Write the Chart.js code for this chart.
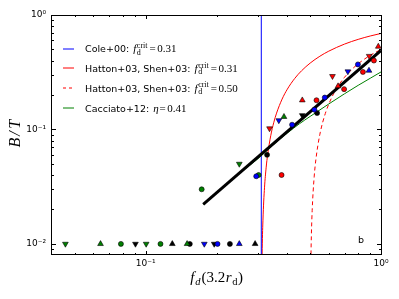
<!DOCTYPE html>
<html><head><meta charset="utf-8">
<script src="https://cdn.jsdelivr.net/npm/chart.js@4.4.1/dist/chart.umd.min.js"></script>
<style>html,body{margin:0;padding:0;background:#fff;}#wrap{width:399px;height:299px;position:relative;}</style>
</head><body><div id="wrap"><canvas id="c"></canvas></div>
<script>
// ---- axes ----
const xRange = [0.04, 1];
const yRange = [0.008, 1];
const xTickValues = [0.1, 1];
const xTickLabels = ['10\u207B\u00B9', '10\u2070'];
const yTickValues = [0.01, 0.1, 1];
const yTickLabels = ['10\u207B\u00B2', '10\u207B\u00B9', '10\u2070'];
const xMinorTicks = [0.05,0.06,0.07,0.08,0.09,0.2,0.3,0.4,0.5,0.6,0.7,0.8,0.9];
const yMinorTicks = [0.009,0.02,0.03,0.04,0.05,0.06,0.07,0.08,0.09,0.2,0.3,0.4,0.5,0.6,0.7,0.8,0.9];

// ---- observed galaxies: f_d(3.2 r_d), B/T ----
const redCircleX = [0.378, 0.532, 0.697, 0.838, 0.933];
const redCircleY = [0.040, 0.180, 0.225, 0.318, 0.400];
const redUpX = [0.463, 0.657, 0.974];
const redUpY = [0.180, 0.239, 0.530];
const redDownX = [0.336, 0.622, 0.891];
const redDownY = [0.102, 0.292, 0.438];
const blueCircleX = [0.295, 0.419, 0.521, 0.577, 0.798, 0.202];
const blueCircleY = [0.039, 0.110, 0.149, 0.190, 0.370, 0.010];
const blueUpX = [0.889, 0.250];
const blueUpY = [0.327, 0.010];
const blueDownX = [0.368, 0.723, 0.1775];
const blueDownY = [0.120, 0.321, 0.010];
const greenCircleX = [0.173, 0.302, 0.0785, 0.1156];
const greenCircleY = [0.030, 0.040, 0.010, 0.010];
const greenUpX = [0.387, 0.0643, 0.150];
const greenUpY = [0.129, 0.010, 0.010];
const greenDownX = [0.250, 0.0456, 0.1005];
const greenDownY = [0.050, 0.010, 0.010];
const blackCircleX = [0.328, 0.535, 0.154, 0.228];
const blackCircleY = [0.060, 0.139, 0.010, 0.010];
const blackUpX = [0.1298, 0.2918];
const blackUpY = [0.010, 0.010];
const blackDownX = [0.463, 0.0905, 0.1956];
const blackDownY = [0.133, 0.010, 0.010];

// ---- model / fit curves ----
const fitX = [0.1756, 1.0];
const fitY = [0.0222, 0.49];
const cacciatoX = [0.1756, 0.25, 0.3, 0.35, 0.4, 0.45, 0.5, 0.6, 0.7, 0.8, 0.9, 1.0];
const cacciatoY = [0.0222, 0.0412, 0.0555, 0.074, 0.093, 0.112, 0.130, 0.167, 0.205, 0.243, 0.280, 0.318];
const coleX = [0.31, 0.31];
const coleY = [0.008, 1.0];
const hatton31X = [0.311, 0.3125, 0.315, 0.32, 0.325, 0.33, 0.34, 0.35, 0.36, 0.38, 0.40, 0.43, 0.46, 0.5, 0.55, 0.6, 0.7, 0.8, 0.9, 1.0];
const hatton31Y = [0.0032, 0.008, 0.0159, 0.0313, 0.0462, 0.0606, 0.0882, 0.1143, 0.1389, 0.1842, 0.225, 0.2791, 0.3261, 0.38, 0.4364, 0.4833, 0.5571, 0.6125, 0.6556, 0.69];
const hatton50X = [0.502, 0.504, 0.506, 0.51, 0.52, 0.53, 0.55, 0.58, 0.62, 0.66, 0.7, 0.75, 0.8, 0.9, 1.0];
const hatton50Y = [0.004, 0.0079, 0.0119, 0.0196, 0.0385, 0.0566, 0.0909, 0.1379, 0.1935, 0.2424, 0.2857, 0.3333, 0.375, 0.4444, 0.5];

// ---- legend ----
const legendNames = ['Cole+00:', 'Hatton+03, Shen+03:', 'Hatton+03, Shen+03:', 'Cacciato+12:'];
const legendValues = ['0.31', '0.31', '0.50', '0.41'];
const legendColors = ['#0000ff', '#ff0000', '#ff0000', '#008000'];

const RED = '#ff0000', BLUE = '#0000ff', GREEN = '#008000', BLACK = '#000000';
const toXY = (xs, ys) => xs.map((x, i) => ({x: x, y: ys[i]}));

function pts(xs, ys, color, style, rot) {
  return {
    data: toXY(xs, ys), showLine: false, order: 0,
    pointStyle: style, rotation: rot || 0,
    pointRadius: style === 'circle' ? 2.5 : 3.3,
    pointBackgroundColor: color, pointBorderColor: '#000', pointBorderWidth: 0.6
  };
}
function curve(xs, ys, color, width, dash, order, smooth) {
  return {
    data: toXY(xs, ys), showLine: true, order: order,
    borderColor: color, borderWidth: width, borderDash: dash || [],
    pointRadius: 0, fill: false,
    cubicInterpolationMode: smooth ? 'monotone' : 'default', tension: 0
  };
}

const datasets = [
  pts(redCircleX, redCircleY, RED, 'circle'),
  pts(redUpX, redUpY, RED, 'triangle'),
  pts(redDownX, redDownY, RED, 'triangle', 180),
  pts(blueCircleX, blueCircleY, BLUE, 'circle'),
  pts(blueUpX, blueUpY, BLUE, 'triangle'),
  pts(blueDownX, blueDownY, BLUE, 'triangle', 180),
  pts(greenCircleX, greenCircleY, GREEN, 'circle'),
  pts(greenUpX, greenUpY, GREEN, 'triangle'),
  pts(greenDownX, greenDownY, GREEN, 'triangle', 180),
  pts(blackCircleX, blackCircleY, BLACK, 'circle'),
  pts(blackUpX, blackUpY, BLACK, 'triangle'),
  pts(blackDownX, blackDownY, BLACK, 'triangle', 180),
  curve(fitX, fitY, BLACK, 3, null, 1, false),
  curve(cacciatoX, cacciatoY, GREEN, 1, null, 2, true),
  curve(coleX, coleY, BLUE, 1, null, 2, false),
  curve(hatton31X, hatton31Y, RED, 1, null, 2, true),
  curve(hatton50X, hatton50Y, RED, 1, [4, 3], 2, true)
];

const SANS = '"DejaVu Sans"';
const SERIF = '"Liberation Serif"';

const decor = {
  id: 'decor',
  afterDatasetsDraw(chart) {
    const ctx = chart.ctx, a = chart.chartArea;
    const xs = chart.scales.x, ys = chart.scales.y;
    ctx.save();
    ctx.strokeStyle = '#000'; ctx.lineWidth = 1;
    ctx.strokeRect(a.left - 0.5, a.top + 0.5, a.right - a.left + 1, a.bottom - a.top - 1);
    ctx.beginPath();
    const xt = (v, L) => { const p = Math.round(xs.getPixelForValue(v)) + 0.5;
      ctx.moveTo(p, a.bottom); ctx.lineTo(p, a.bottom - L);
      ctx.moveTo(p, a.top); ctx.lineTo(p, a.top + L); };
    const yt = (v, L) => { const p = Math.round(ys.getPixelForValue(v)) + 0.5;
      ctx.moveTo(a.left, p); ctx.lineTo(a.left + L, p);
      ctx.moveTo(a.right, p); ctx.lineTo(a.right - L, p); };
    xTickValues.forEach(v => xt(v, 4));
    xMinorTicks.forEach(v => xt(v, 2));
    yTickValues.forEach(v => yt(v, 4));
    yMinorTicks.forEach(v => yt(v, 2));
    ctx.stroke();
    ctx.restore();
  },
  afterDraw(chart) {
    const ctx = chart.ctx, a = chart.chartArea;
    ctx.save();
    ctx.fillStyle = '#000';
    ctx.textBaseline = 'alphabetic';
    // legend
    const rowY = [48.5, 68.3, 88.1, 107.9];
    for (let i = 0; i < 4; i++) {
      const y = rowY[i];
      ctx.strokeStyle = legendColors[i]; ctx.lineWidth = 1;
      ctx.setLineDash(i === 2 ? [3, 3] : []);
      ctx.beginPath(); ctx.moveTo(63, Math.round(y)); ctx.lineTo(74, Math.round(y)); ctx.stroke();
      ctx.setLineDash([]);
      const base = y + 3.8;
      ctx.font = '9.5px ' + SANS;
      ctx.fillText(legendNames[i], 85, base);
      let x = 85 + ctx.measureText(legendNames[i]).width + 4;
      if (i < 3) {
        ctx.font = 'italic 11px ' + SERIF; ctx.fillText('f', x, base);
        x += ctx.measureText('f').width + 0.6;
        ctx.font = '8px ' + SERIF;
        ctx.fillText('d', x, base + 2.2);
        const wd = ctx.measureText('d').width;
        ctx.fillText('crit', x, base - 4.6);
        const wc = ctx.measureText('crit').width;
        x += Math.max(wd, wc) + 2;
      } else {
        ctx.font = 'italic 11px ' + SERIF; ctx.fillText('\u03B7', x, base);
        x += ctx.measureText('\u03B7').width + 1;
      }
      ctx.font = '11px ' + SERIF;
      ctx.fillText('=', x, base);
      x += ctx.measureText('=').width + 1.5;
      ctx.fillText(legendValues[i], x, base);
    }
    // x axis title f_d(3.2 r_d)
    const parts = [
      {t: 'f', f: 'italic 15px ' + SERIF, dy: 0, g: 1},
      {t: 'd', f: 'italic 10.5px ' + SERIF, dy: 3, g: 1},
      {t: '(3.2', f: '15px ' + SERIF, dy: 0, g: 0.5},
      {t: 'r', f: 'italic 15px ' + SERIF, dy: 0, g: 0.5},
      {t: 'd', f: '10.5px ' + SERIF, dy: 3, g: 0.5},
      {t: ')', f: '15px ' + SERIF, dy: 0, g: 0}
    ];
    let tw = 0;
    parts.forEach(p => { ctx.font = p.f; p.w = ctx.measureText(p.t).width; tw += p.w + p.g; });
    let x = (a.left + a.right) / 2 - tw / 2;
    parts.forEach(p => { ctx.font = p.f; ctx.fillText(p.t, x, 282 + p.dy); x += p.w + p.g; });
    // y axis title B/T
    ctx.save();
    ctx.translate(15, (a.top + a.bottom) / 2 - 1.5);
    ctx.rotate(-Math.PI / 2);
    ctx.font = 'italic 16px ' + SERIF;
    ctx.textAlign = 'center';
    ctx.fillText('B', -9, 5);
    ctx.fillText('/', 0, 5);
    ctx.fillText('T', 9.3, 5);
    ctx.restore();
    // panel tag
    ctx.font = '9.5px ' + SANS;
    ctx.fillText('b', 358, 243.3);
    ctx.restore();
  }
};

Chart.defaults.font.family = SANS;
new Chart(document.getElementById('c'), {
  type: 'scatter',
  data: {datasets: datasets},
  options: {
    responsive: true, maintainAspectRatio: false, animation: false, devicePixelRatio: 1,
    layout: {padding: {left: 0, right: 18, top: 15, bottom: 0}},
    plugins: {legend: {display: false}, tooltip: {enabled: false}},
    events: [],
    scales: {
      x: {
        type: 'logarithmic', min: xRange[0], max: xRange[1],
        afterBuildTicks: s => { s.ticks = xTickValues.map(v => ({value: v})); },
        afterFit: s => { s.height = 44; },
        grid: {display: false, drawTicks: false}, border: {display: false},
        ticks: {color: '#000', font: {size: 9}, padding: 3, maxRotation: 0, autoSkip: false,
          callback: (v, i) => xTickLabels[i]}
      },
      y: {
        type: 'logarithmic', min: yRange[0], max: yRange[1],
        afterBuildTicks: s => { s.ticks = yTickValues.map(v => ({value: v})); },
        afterFit: s => { s.width = 52; },
        grid: {display: false, drawTicks: false}, border: {display: false},
        ticks: {color: '#000', font: {size: 9}, padding: 6, autoSkip: false,
          callback: (v, i) => yTickLabels[i]}
      }
    }
  },
  plugins: [decor]
});
</script></body></html>
